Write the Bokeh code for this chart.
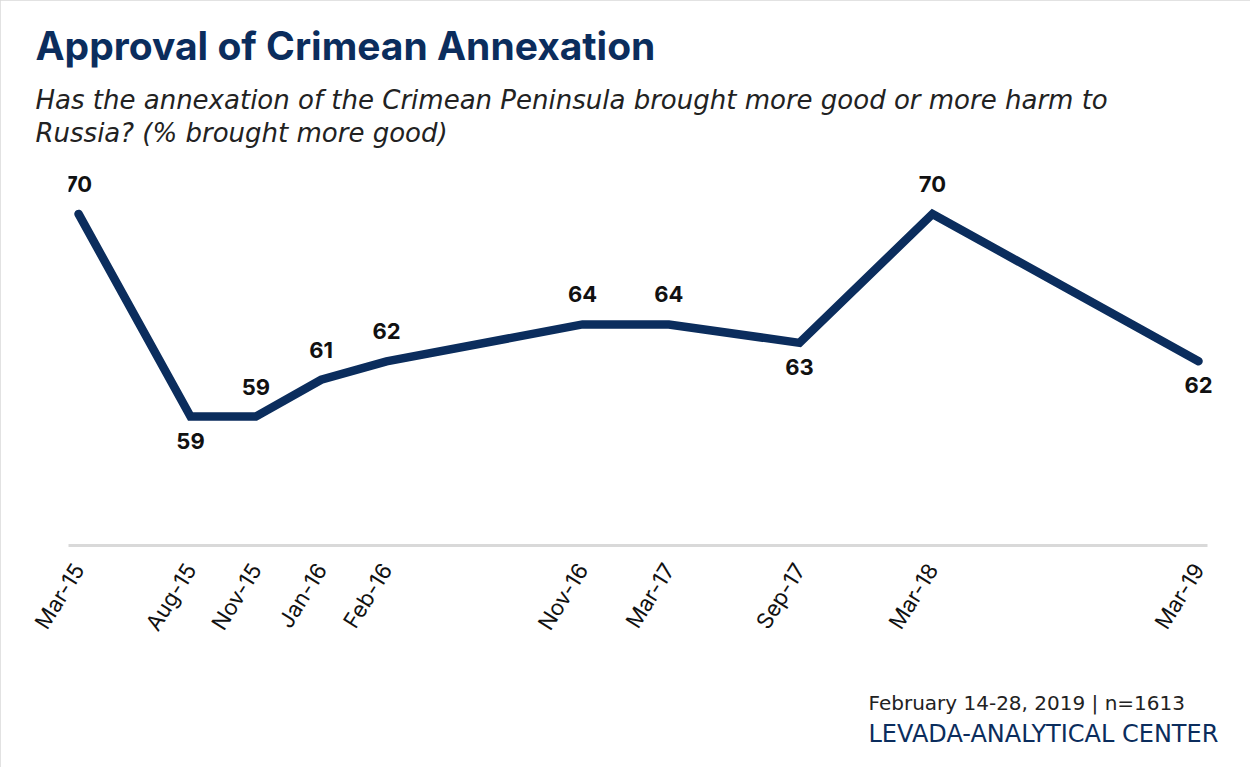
import math
from bokeh.plotting import figure
from bokeh.models import Title, FixedTicker, ColumnDataSource, Range1d, LabelSet
from bokeh.core.properties import value
from bokeh.embed import file_html
from bokeh.resources import INLINE

# ---- data ----
periods = ["Mar-15", "Aug-15", "Nov-15", "Jan-16", "Feb-16",
           "Nov-16", "Mar-17", "Sep-17", "Mar-18", "Mar-19"]
time_pos = [0, 4.8, 7.6, 10.4, 13.2, 21.6, 25.3, 30.9, 36.6, 48]
more_good = [70, 59, 59, 61, 62, 64, 64, 63, 70, 62]

title_text = "Approval of Crimean Annexation"
subtitle_text = ("Has the annexation of the Crimean Peninsula brought more good or more harm to\n"
                 "Russia? (% brought more good)")
footer_1 = "February 14-28, 2019 | n=1613"
footer_2 = "LEVADA-ANALYTICAL CENTER"

NAVY = "#0b2d5d"
FONT = "Inter"

X_START, X_END = -0.43, 49.8
AXIS_END = 48.39

p = figure(width=1250, height=767, output_backend="svg", toolbar_location=None,
           x_range=Range1d(X_START, X_END), y_range=Range1d(52, 72.9),
           min_border_left=68, min_border_right=10, min_border_top=160,
           min_border_bottom=222)
p.outline_line_color = None
p.grid.visible = False
p.yaxis.visible = False
p.background_fill_color = "white"
p.border_fill_color = "white"
p.styles = {"outline": "2px solid #d9d9d9", "outline-offset": "-2px"}

# x axis
ax = p.xaxis[0]
ax.bounds = (X_START, AXIS_END)
ax.ticker = FixedTicker(ticks=time_pos)
ax.major_label_overrides = {t: lab for t, lab in zip(time_pos, periods)}
ax.axis_line_color = "#d9d9d9"
ax.axis_line_width = 3
ax.major_tick_line_color = None
ax.minor_tick_line_color = None
ax.major_label_orientation = math.radians(58)
ax.major_label_standoff = 14
ax.major_label_text_font = FONT
ax.major_label_text_font_size = "22px"
ax.major_label_text_color = "#111111"

# line
src = ColumnDataSource(dict(x=time_pos, y=more_good, lab=[str(v) for v in more_good],
                            off=[(-24 if (i > 0 and v < more_good[i - 1]) else 30)
                                 for i, v in enumerate(more_good)]))
p.line("x", "y", source=src, line_width=8.5, line_color=NAVY,
       line_join="miter", line_cap="round")

labels = LabelSet(x="x", y="y", text="lab", source=src, y_offset="off",
                  text_align="center", text_baseline="middle",
                  text_font=value(FONT), text_font_size="22px",
                  text_color="#111111", text_font_style="bold")
p.add_layout(labels)

# titles (added inner first)
p.add_layout(Title(text=subtitle_text, text_font="DejaVu Sans", text_font_style="italic",
                   text_font_size="26px", text_line_height=1.1, text_color="#222222",
                   align="left", offset=-33, standoff=26), "above")
p.add_layout(Title(text=title_text, text_font=FONT, text_font_style="bold",
                   text_font_size="39px", text_color=NAVY, align="left",
                   offset=-33, standoff=2), "above")

p.add_layout(Title(text=footer_1, text_font="DejaVu Sans", text_font_style="normal",
                   text_font_size="20px", text_color="#222222", align="left",
                   offset=800, standoff=86), "below")
p.add_layout(Title(text=footer_2, text_font="DejaVu Sans", text_font_style="normal",
                   text_font_size="24px", text_color=NAVY, align="left",
                   vertical_align="top", offset=800, standoff=-76), "below")

open("out.html", "w").write(file_html(p, INLINE))
